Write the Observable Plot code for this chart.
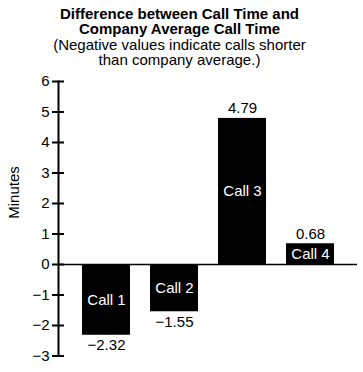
<!DOCTYPE html>
<html>
<head>
<meta charset="utf-8">
<script src="https://cdn.jsdelivr.net/npm/d3@7"></script>
<script src="https://cdn.jsdelivr.net/npm/@observablehq/plot@0.6"></script>
<style>
  html, body { margin: 0; padding: 0; background: #fff; }
  #wrap { position: relative; width: 363px; height: 372px; font-family: "Liberation Sans", Arial, sans-serif; color: #000; }
  #title { position: absolute; left: 0; top: 6px; width: 359px; text-align: center; font-size: 15px; line-height: 15.4px; }
  #title b { font-weight: bold; }
  #chart { position: absolute; left: 0; top: 72px; }
</style>
</head>
<body>
<div id="wrap">
  <div id="title"><b>Difference between Call Time and<br>Company Average Call Time</b><br>(Negative values indicate calls shorter<br>than company average.)</div>
  <div id="chart"></div>
</div>
<script>
const calls = ["Call 1", "Call 2", "Call 3", "Call 4"];
const minutes = [-2.32, -1.55, 4.79, 0.68];
const yTicks = [-3, -2, -1, 0, 1, 2, 3, 4, 5, 6];
const yLabel = "Minutes";

const data = calls.map((c, i) => ({name: c, value: minutes[i]}));
const fmt = d3.format(".2f");
const font = "Liberation Sans, Arial, sans-serif";

const chart = Plot.plot({
  width: 363,
  height: 300,
  marginLeft: 58,
  marginRight: 6,
  marginTop: 9,
  marginBottom: 16.5,
  style: {fontFamily: font, fontSize: "15px", background: "white", color: "black"},
  x: {domain: calls, paddingInner: 0.3, paddingOuter: 0.32, axis: null},
  y: {domain: [-3, 6], axis: null},
  marks: [
    Plot.barY(data, {x: "name", y: "value", fill: "black"}),
    Plot.ruleY([0], {stroke: "black", strokeWidth: 1.5}),
    Plot.axisY(yTicks, {tickSize: 12, dx: 6, strokeWidth: 2, fill: "none", label: null}),
    Plot.axisY(yTicks, {tickSize: 6, tickPadding: 3, stroke: "none", fill: "black", fontSize: 15, tickFormat: d3.format(""), label: null}),
    Plot.frame({anchor: "left", stroke: "black", strokeWidth: 2}),
    Plot.text([yLabel], {frameAnchor: "left", dx: -44, rotate: -90, fontSize: 15, text: d => d}),
    Plot.text(data, {x: "name", y: d => d.value / 2, text: "name", fill: "white", fontSize: 15}),
    Plot.text(data.filter(d => d.value >= 0), {x: "name", y: "value", text: d => fmt(d.value), dy: -10, fontSize: 15}),
    Plot.text(data.filter(d => d.value < 0), {x: "name", y: "value", text: d => fmt(d.value), dy: 10, fontSize: 15})
  ]
});
document.getElementById("chart").appendChild(chart);
</script>
</body>
</html>
